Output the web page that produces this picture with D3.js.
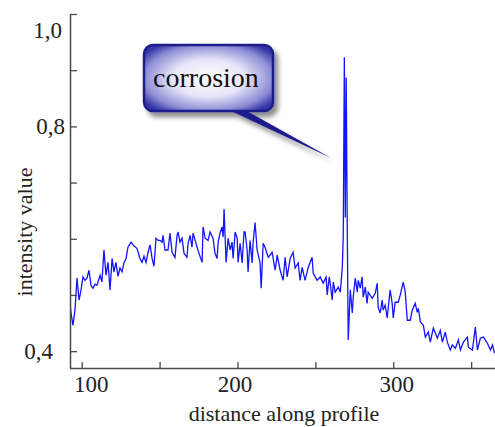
<!DOCTYPE html>
<html>
<head>
<meta charset="utf-8">
<script src="https://cdn.jsdelivr.net/npm/d3@7"></script>
<style>
  html, body { margin: 0; padding: 0; background: #fff; }
  svg { display: block; }
</style>
</head>
<body>
<svg id="chart" width="495" height="427"></svg>
<script>
// ---- data ----
const distance = [
  92.5, 93.1, 94.4, 95.7, 97.0, 98.3, 99.6, 100.8, 102.1, 103.4, 104.7, 106.0, 107.3, 108.5, 109.8,
  111.8, 113.0, 114.3, 115.6, 116.9, 118.2, 119.5, 120.7, 122.0, 123.3, 124.6, 125.9, 127.2, 128.5, 129.7,
  131.7, 133.6, 135.5, 137.4, 138.7, 140.0, 141.3, 142.6, 143.9, 145.2, 146.4, 147.7, 149.0, 150.3, 151.6,
  152.2, 153.5, 155.4, 156.7, 158.0, 159.9, 161.2, 161.9, 163.1, 164.4, 165.7, 167.6, 168.3, 169.6, 170.8,
  171.5, 172.8, 174.1, 175.3, 177.3, 177.9, 179.2, 181.1, 182.4, 184.3, 185.6, 186.9, 187.6, 188.8, 190.1,
  190.8, 191.4, 192.7, 194.0, 195.3, 196.5, 197.2, 198.5, 199.8, 200.4, 201.7, 203.0, 204.2, 204.9, 206.2,
  206.8, 208.1, 209.4, 210.0, 211.3, 212.6, 214.5, 215.2, 216.5, 217.7, 219.7, 221.0, 222.2, 222.9, 224.2,
  225.5, 227.4, 229.3, 230.6, 231.9, 233.8, 235.7, 237.0, 239.0, 240.2, 241.5, 243.4, 245.4, 247.9, 248.6,
  251.1, 253.1, 255.0, 256.9, 257.6, 258.9, 259.5, 260.8, 261.5, 262.7, 264.7, 266.0, 267.3, 267.9, 268.6,
  269.2, 269.8, 270.5, 271.1, 272.4, 273.7, 274.3, 275.6, 276.9, 277.5, 278.8, 280.0, 280.7, 282.0, 283.2,
  283.9, 286.5, 288.4, 289.7, 290.3, 291.6, 292.9, 293.5, 294.8, 296.1, 298.0, 299.3, 300.0, 301.2, 303.2,
  304.5, 306.4, 307.7, 309.0, 310.9, 312.2, 314.1, 315.4, 316.1, 317.4, 319.3, 320.6, 322.5, 323.8, 325.7,
  328.3, 330.2, 331.5, 333.4, 334.7, 336.6, 337.9, 339.9, 341.8, 343.1, 345.0, 347.6, 348.2, 350.8, 352.7,
  354.0, 355.9, 357.9, 360.4, 362.4, 363.7, 365.0
];
const intensity = [
  0.485, 0.469, 0.446, 0.473, 0.530, 0.491, 0.509, 0.532, 0.526, 0.530, 0.544, 0.517, 0.512, 0.519, 0.517,
  0.535, 0.523, 0.580, 0.535, 0.558, 0.509, 0.565, 0.541, 0.558, 0.533, 0.548, 0.541, 0.558, 0.565, 0.585,
  0.594, 0.587, 0.583, 0.565, 0.558, 0.569, 0.558, 0.576, 0.589, 0.565, 0.551, 0.601, 0.597, 0.597, 0.594,
  0.606, 0.580, 0.580, 0.610, 0.576, 0.567, 0.606, 0.612, 0.594, 0.601, 0.574, 0.567, 0.592, 0.606, 0.585,
  0.610, 0.597, 0.585, 0.574, 0.558, 0.621, 0.601, 0.597, 0.612, 0.601, 0.574, 0.565, 0.594, 0.610, 0.621,
  0.603, 0.653, 0.558, 0.601, 0.580, 0.594, 0.565, 0.612, 0.601, 0.558, 0.592, 0.557, 0.612, 0.612, 0.580,
  0.541, 0.597, 0.557, 0.592, 0.629, 0.580, 0.557, 0.512, 0.592, 0.585, 0.567, 0.571, 0.576, 0.565, 0.544,
  0.571, 0.544, 0.526, 0.567, 0.532, 0.565, 0.576, 0.548, 0.557, 0.526, 0.549, 0.526, 0.549, 0.567, 0.539,
  0.526, 0.532, 0.521, 0.532, 0.500, 0.532, 0.521, 0.491, 0.523, 0.505, 0.514, 0.505, 0.549, 0.606, 0.923,
  0.638, 0.887, 0.606, 0.420, 0.509, 0.468, 0.496, 0.530, 0.505, 0.526, 0.512, 0.532, 0.496, 0.514, 0.485,
  0.505, 0.494, 0.503, 0.521, 0.478, 0.468, 0.491, 0.473, 0.482, 0.459, 0.509, 0.485, 0.459, 0.487, 0.487,
  0.500, 0.523, 0.505, 0.455, 0.455, 0.473, 0.485, 0.469, 0.476, 0.452, 0.446, 0.425, 0.434, 0.416, 0.441,
  0.423, 0.437, 0.416, 0.434, 0.416, 0.402, 0.411, 0.405, 0.420, 0.402, 0.416, 0.425, 0.407, 0.402, 0.443,
  0.402, 0.423, 0.425, 0.414, 0.402, 0.411, 0.396
];
const xTicks = [100, 150, 200, 250, 300, 350];
const xTickLabels = {100: "100", 200: "200", 300: "300"};
const yTicks = [0.4, 0.5, 0.6, 0.7, 0.8, 0.9, 1.0];
const yTickLabels = {"0.4": "0,4", "0.8": "0,8", "1": "1,0"};
const xTitle = "distance along profile";
const yTitle = "intensity value";
const calloutText = "corrosion";

// ---- layout ----
const SERIF = '"Liberation Serif", "Times New Roman", serif';
const W = 495, H = 427;
const plot = {left: 70, right: 495, top: 14, bottom: 368};
const svg = d3.select("#chart");
svg.append("rect").attr("width", W).attr("height", H).attr("fill", "#fff");

const x = d3.scaleLinear().domain([92.5, 365.3]).range([plot.left, plot.right]);
const y = d3.scaleLinear().domain([0.37, 1.0]).range([plot.bottom, plot.top]);

const defs = svg.append("defs");
defs.append("clipPath").attr("id", "clip")
  .append("rect").attr("x", plot.left).attr("y", plot.top)
  .attr("width", plot.right - plot.left).attr("height", plot.bottom - plot.top);

// ---- line ----
const n = Math.min(distance.length, intensity.length);
const pts = d3.range(n).map(i => [distance[i], intensity[i]]);
svg.append("path")
  .datum(pts)
  .attr("clip-path", "url(#clip)")
  .attr("fill", "none")
  .attr("stroke", "#1414ff")
  .attr("stroke-width", 1.3)
  .attr("stroke-linejoin", "miter")
  .attr("d", d3.line().x(d => x(d[0])).y(d => y(d[1])));

// ---- axes ----
const axisColor = "#4a4a4a";
const yAxis = d3.axisRight(y).tickValues(yTicks).tickSize(7)
  .tickFormat(d => yTickLabels[String(+d.toFixed(1))] || "");
const gy = svg.append("g").attr("transform", `translate(${plot.left},0)`).call(yAxis);
gy.select(".domain").attr("stroke", axisColor).attr("stroke-width", 1.5)
  .attr("d", `M0.5,${plot.top}V${plot.bottom}`);
gy.selectAll(".tick line").attr("stroke", axisColor).attr("stroke-width", 1.3);
gy.selectAll(".tick text")
  .style("font-family", SERIF)
  .style("font-size", "23px")
  .attr("fill", "#222")
  .attr("text-anchor", "end")
  .attr("x", d => (Math.abs(d - 0.4) < 1e-6 ? -17 : (Math.abs(d - 1) < 1e-6 ? -8 : -5)))
  .attr("dy", d => (Math.abs(d - 1) < 1e-6 ? "1.0em" : "0.3em"));

const xAxis = d3.axisTop(x).tickValues(xTicks).tickSize(6)
  .tickFormat(d => xTickLabels[d] || "");
const gx = svg.append("g").attr("transform", `translate(0,${plot.bottom})`).call(xAxis);
gx.select(".domain").attr("stroke", axisColor).attr("stroke-width", 1.5)
  .attr("d", `M${plot.left},0.5H${plot.right}`);
gx.selectAll(".tick line").attr("stroke", axisColor).attr("stroke-width", 1.3);
gx.selectAll(".tick text")
  .style("font-family", SERIF)
  .style("font-size", "23px")
  .attr("fill", "#222")
  .attr("y", 24)
  .attr("dy", 0)
  .attr("x", d => (d === 100 ? 9 : d === 200 ? -3 : 3));

// titles
svg.append("text")
  .attr("x", 284).attr("y", 421)
  .attr("text-anchor", "middle")
  .style("font-family", SERIF).style("font-size", "22px")
  .attr("fill", "#222")
  .text(xTitle);
svg.append("text")
  .attr("transform", "translate(32,232) rotate(-90)")
  .attr("text-anchor", "middle")
  .style("font-family", SERIF).style("font-size", "22px")
  .attr("fill", "#222")
  .text(yTitle);

// ---- callout ----
const grad = defs.append("radialGradient").attr("id", "boxgrad")
  .attr("cx", "50%").attr("cy", "50%").attr("r", "62%");
grad.append("stop").attr("offset", "0%").attr("stop-color", "#ffffff");
grad.append("stop").attr("offset", "45%").attr("stop-color", "#e6e6f8");
grad.append("stop").attr("offset", "80%").attr("stop-color", "#8e8ed6");
grad.append("stop").attr("offset", "100%").attr("stop-color", "#3434a6");

const shadow = defs.append("filter").attr("id", "shadow")
  .attr("x", "-20%").attr("y", "-20%").attr("width", "150%").attr("height", "160%");
shadow.append("feGaussianBlur").attr("in", "SourceAlpha").attr("stdDeviation", 2.5).attr("result", "b");
shadow.append("feOffset").attr("in", "b").attr("dx", 4).attr("dy", 5).attr("result", "o");
shadow.append("feComponentTransfer").attr("in", "o").attr("result", "s")
  .append("feFuncA").attr("type", "linear").attr("slope", 0.45);
const merge = shadow.append("feMerge");
merge.append("feMergeNode").attr("in", "s");
merge.append("feMergeNode").attr("in", "SourceGraphic");

const callout = svg.append("g").attr("filter", "url(#shadow)");
callout.append("polygon")
  .attr("points", "229,110 245,110 331,158")
  .attr("fill", "#1e1e8c");
callout.append("rect")
  .attr("x", 144).attr("y", 45).attr("width", 129).attr("height", 66)
  .attr("rx", 9).attr("ry", 9)
  .attr("fill", "url(#boxgrad)")
  .attr("stroke", "#1e1e8c").attr("stroke-width", 2.5);
svg.append("text")
  .attr("x", 206).attr("y", 87)
  .attr("text-anchor", "middle")
  .style("font-family", SERIF).style("font-size", "28px")
  .attr("fill", "#111")
  .text(calloutText);
</script>
</body>
</html>
